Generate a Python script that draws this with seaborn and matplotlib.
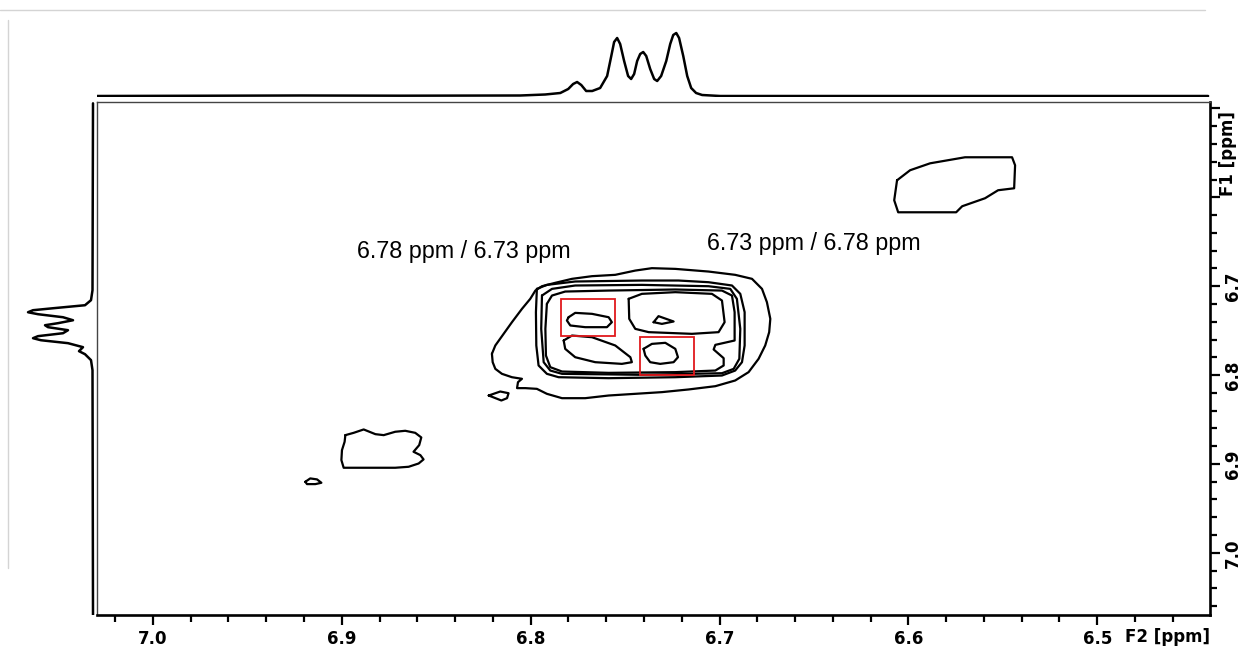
import matplotlib
matplotlib.use("Agg")
import matplotlib.pyplot as plt
import seaborn as sns
from matplotlib.lines import Line2D
from matplotlib.patches import Rectangle
from matplotlib.ticker import MultipleLocator, FuncFormatter

# axis ranges (ppm)
f2_range = (7.0296, 6.4403)
f1_range = (7.070, 6.4927)

# 1D projection along F2 (top): ppm, intensity
top_ppm = [7.0295, 6.9220, 6.8690, 6.8055, 6.7923, 6.7843, 6.7801, 6.7775, 6.7754,
           6.7732, 6.7706, 6.7674, 6.7632, 6.7595, 6.7573, 6.7558, 6.7542, 6.7526,
           6.7505, 6.7484, 6.7468, 6.7452, 6.7436, 6.7420, 6.7404, 6.7388, 6.7367,
           6.7346, 6.7330, 6.7309, 6.7282, 6.7261, 6.7245, 6.7229, 6.7214, 6.7192,
           6.7171, 6.7150, 6.7124, 6.7092, 6.6996, 6.4413]
top_int = [0, 0.5, 0.3, 0.5, 1.5, 3, 7, 12, 14,
           11, 5, 5, 8, 20, 40, 54, 58, 52,
           35, 20, 17, 22, 35, 42, 44, 40, 27,
           17, 15, 20, 35, 52, 61, 63, 58, 40,
           20, 8, 3, 1, 0, 0]

# 1D projection along F1 (left): ppm, intensity
left_ppm = [6.4942, 6.7045, 6.7157, 6.7214, 6.7248, 6.7270, 6.7293, 6.7315, 6.7349,
            6.7383, 6.7416, 6.7439, 6.7461, 6.7495, 6.7529, 6.7562, 6.7585, 6.7608,
            6.7641, 6.7686, 6.7731, 6.7765, 6.7832, 6.7945, 7.0701]
left_int = [0, 0.5, 2, 8, 40, 60, 65, 55, 30,
            20, 35, 48, 45, 25, 30, 55, 60, 52,
            25, 10, 14, 8, 2, 0.5, 0]

# contour outlines (F2 ppm, F1 ppm)
cluster_level1 = [(6.8205, 6.7761), (6.8187, 6.7667), (6.8143, 6.7536), (6.8099, 6.7405),
                  (6.8046, 6.7255), (6.8002, 6.7142), (6.7975, 6.7049), (6.7940, 6.7000),
                  (6.7870, 6.6962), (6.7781, 6.6917), (6.7675, 6.6887), (6.7552, 6.6872),
                  (6.7446, 6.6824), (6.7358, 6.6797), (6.7234, 6.6805), (6.7058, 6.6835),
                  (6.6917, 6.6872), (6.6828, 6.6917), (6.6775, 6.7030), (6.6749, 6.7180),
                  (6.6731, 6.7367), (6.6737, 6.7517), (6.6758, 6.7667), (6.6793, 6.7817),
                  (6.6846, 6.7967), (6.6917, 6.8061), (6.7022, 6.8125), (6.7164, 6.8162),
                  (6.7305, 6.8192), (6.7446, 6.8211), (6.7587, 6.8230), (6.7711, 6.8260),
                  (6.7834, 6.8260), (6.7914, 6.8211), (6.7967, 6.8155), (6.8028, 6.8147),
                  (6.8072, 6.8147), (6.8067, 6.8080), (6.8046, 6.8042), (6.8099, 6.8024),
                  (6.8152, 6.7986), (6.8187, 6.7930), (6.8201, 6.7855)]
cluster_level2 = [(6.7967, 6.7030), (6.7914, 6.6985), (6.7764, 6.6947), (6.7411, 6.6936),
                  (6.7217, 6.6936), (6.7058, 6.6955), (6.6934, 6.6992), (6.6890, 6.7086),
                  (6.6867, 6.7292), (6.6867, 6.7667), (6.6881, 6.7855), (6.6917, 6.7949),
                  (6.6987, 6.8005), (6.7234, 6.8024), (6.7587, 6.8035), (6.7852, 6.8024),
                  (6.7914, 6.7986), (6.7958, 6.7892), (6.7970, 6.7667), (6.7972, 6.7292)]
cluster_level3 = [(6.7940, 6.7105), (6.7887, 6.7030), (6.7764, 6.6992), (6.7411, 6.6985),
                  (6.7058, 6.7000), (6.6943, 6.7030), (6.6908, 6.7142), (6.6890, 6.7480),
                  (6.6895, 6.7817), (6.6925, 6.7930), (6.6987, 6.7979), (6.7411, 6.7997),
                  (6.7834, 6.7986), (6.7896, 6.7949), (6.7931, 6.7855), (6.7944, 6.7480)]
cluster_level4 = [(6.7914, 6.7199), (6.7887, 6.7105), (6.7817, 6.7060), (6.7587, 6.7049),
                  (6.7234, 6.7037), (6.6987, 6.7049), (6.6934, 6.7105), (6.6920, 6.7292),
                  (6.6920, 6.7611), (6.7022, 6.7660), (6.7031, 6.7712), (6.6978, 6.7810),
                  (6.6978, 6.7892), (6.7022, 6.7949), (6.7234, 6.7967), (6.7587, 6.7975),
                  (6.7834, 6.7960), (6.7896, 6.7911), (6.7919, 6.7780), (6.7922, 6.7480)]
cross_peak_a = [(6.7799, 6.7349), (6.7764, 6.7300), (6.7675, 6.7311), (6.7587, 6.7349),
                (6.7570, 6.7405), (6.7596, 6.7461), (6.7711, 6.7461), (6.7790, 6.7442),
                (6.7808, 6.7386)]
diag_lobe_lower = [(6.7825, 6.7611), (6.7781, 6.7555), (6.7675, 6.7574), (6.7552, 6.7667),
                   (6.7472, 6.7799), (6.7464, 6.7855), (6.7517, 6.7874), (6.7658, 6.7855),
                   (6.7764, 6.7799), (6.7817, 6.7705)]
diag_lobe_upper = [(6.7481, 6.7142), (6.7411, 6.7086), (6.7234, 6.7067), (6.7040, 6.7086),
                   (6.6987, 6.7161), (6.6973, 6.7405), (6.7005, 6.7517), (6.7146, 6.7536),
                   (6.7375, 6.7517), (6.7446, 6.7480), (6.7478, 6.7367)]
diag_peak_small = [(6.7349, 6.7405), (6.7323, 6.7337), (6.7243, 6.7397), (6.7305, 6.7424)]
cross_peak_b = [(6.7402, 6.7705), (6.7358, 6.7649), (6.7287, 6.7637), (6.7234, 6.7705),
                (6.7220, 6.7799), (6.7243, 6.7855), (6.7314, 6.7874), (6.7367, 6.7855),
                (6.7393, 6.7780)]
noise_a = [(6.8222, 6.8230), (6.8161, 6.8185), (6.8117, 6.8204), (6.8125, 6.8260),
           (6.8155, 6.8286)]
diag_peak_689 = [(6.8981, 6.8676), (6.8937, 6.8650), (6.8884, 6.8612), (6.8822, 6.8665),
                 (6.8778, 6.8676), (6.8717, 6.8638), (6.8664, 6.8627), (6.8611, 6.8650),
                 (6.8579, 6.8702), (6.8590, 6.8788), (6.8620, 6.8863), (6.8584, 6.8901),
                 (6.8567, 6.8949), (6.8593, 6.8995), (6.8646, 6.9032), (6.8717, 6.9043),
                 (6.8893, 6.9043), (6.8990, 6.9043), (6.9002, 6.8957), (6.8999, 6.8845),
                 (6.8985, 6.8751)]
noise_b = [(6.9193, 6.9201), (6.9167, 6.9163), (6.9131, 6.9174), (6.9108, 6.9212),
           (6.9140, 6.9227), (6.9184, 6.9227)]
diag_peak_658 = [(6.6060, 6.5808), (6.5991, 6.5695), (6.5885, 6.5617), (6.5700, 6.5549),
                 (6.5451, 6.5549), (6.5435, 6.5639), (6.5440, 6.5898), (6.5525, 6.5920),
                 (6.5594, 6.6010), (6.5715, 6.6100), (6.5747, 6.6168), (6.6054, 6.6168),
                 (6.6075, 6.6033)]

# highlighted cross peaks: (F2 min, F2 max, F1 min, F1 max)
box_a = (6.7552, 6.7838, 6.7142, 6.7562)
box_b = (6.7134, 6.7420, 6.7574, 6.7994)

labels = ["6.78 ppm / 6.73 ppm", "6.73 ppm / 6.78 ppm"]
label_pos = [(6.8918, 6.6606), (6.7065, 6.6516)]


def draw_contour(ax, pts, lw=1.6):
    xs = [p[0] for p in pts] + [pts[0][0]]
    ys = [p[1] for p in pts] + [pts[0][1]]
    sns.lineplot(x=xs, y=ys, sort=False, estimator=None, color="black",
                 linewidth=lw, ax=ax)


def main():
    sns.set_style("white")
    plt.rcParams["font.family"] = ["DejaVu Sans"]

    W, H = 1241, 658
    fig = plt.figure(figsize=(W / 100, H / 100), dpi=100)

    ax = fig.add_axes([97 / W, 43 / H, 1113 / W, 513 / H])
    ax_top = fig.add_axes([97 / W, (H - 97) / H, 1113 / W, 66 / H])
    ax_left = fig.add_axes([25 / W, 43 / H, 70 / W, 513 / H])

    # contours
    for c in [cluster_level1, cluster_level2, cluster_level3, cluster_level4,
              cross_peak_a, diag_lobe_lower, diag_lobe_upper, diag_peak_small,
              cross_peak_b, noise_a, diag_peak_689, noise_b, diag_peak_658]:
        draw_contour(ax, c)

    for b in [box_a, box_b]:
        ax.add_patch(Rectangle((b[0], b[2]), b[1] - b[0], b[3] - b[2],
                               fill=False, edgecolor="#e0191c", linewidth=1.3, zorder=5))

    for txt, (x, y) in zip(labels, label_pos):
        ax.text(x, y, txt, ha="left", va="center", fontsize=16.8,
                family=["Liberation Sans", "DejaVu Sans"], color="black")

    ax.set_xlim(*f2_range)
    ax.set_ylim(*f1_range)
    ax.set_xlabel("")
    ax.set_ylabel("")

    ax.xaxis.set_major_locator(MultipleLocator(0.1))
    ax.xaxis.set_minor_locator(MultipleLocator(0.02))
    ax.yaxis.set_major_locator(MultipleLocator(0.1))
    ax.yaxis.set_minor_locator(MultipleLocator(0.02))
    ax.xaxis.set_major_formatter(FuncFormatter(lambda v, p: f"{v:.1f}"))
    ax.yaxis.set_major_formatter(
        FuncFormatter(lambda v, p: f"{v:.1f}" if v > 6.65 else ""))

    ax.tick_params(axis="x", which="major", direction="out", length=7, width=1.6,
                   bottom=True, top=False, labelsize=12, pad=4, colors="black")
    ax.tick_params(axis="x", which="minor", direction="out", length=5, width=1.6,
                   bottom=True, top=False, colors="black")
    ax.tick_params(axis="y", which="major", direction="out", length=7, width=1.6,
                   left=False, right=True, labelleft=False, labelright=True,
                   labelsize=12, pad=3, labelrotation=90, colors="black")
    ax.tick_params(axis="y", which="minor", direction="out", length=5, width=1.6,
                   left=False, right=True, colors="black")
    for lab in ax.get_xticklabels() + ax.get_yticklabels():
        lab.set_fontweight("bold")
    for lab in ax.get_yticklabels():
        lab.set_va("center")

    for side in ["bottom", "right"]:
        ax.spines[side].set_linewidth(1.9)
        ax.spines[side].set_color("black")
    for side in ["top", "left"]:
        ax.spines[side].set_linewidth(1.0)
        ax.spines[side].set_color("#444444")

    ax.text(0.962, -0.043, "F2 [ppm]", transform=ax.transAxes, ha="center",
            va="center", fontsize=12, fontweight="bold", color="black")
    ax.text(1.016, 0.9, "F1 [ppm]", transform=ax.transAxes, ha="center",
            va="center", rotation=90, fontsize=12, fontweight="bold", color="black")

    # projections
    sns.lineplot(x=top_ppm, y=top_int, sort=False, estimator=None, color="black",
                 linewidth=1.8, ax=ax_top)
    ax_top.set_xlim(*f2_range)
    ax_top.set_ylim(-1, 65)
    ax_top.axis("off")

    sns.lineplot(x=left_int, y=left_ppm, sort=False, estimator=None, color="black",
                 linewidth=1.8, ax=ax_left)
    ax_left.set_ylim(*f1_range)
    ax_left.set_xlim(68, -2)
    ax_left.axis("off")

    # light frame remnants of the screenshot
    fig.add_artist(Line2D([0, 1205 / W], [1 - 10 / H, 1 - 10 / H],
                          color="#d4d4d4", linewidth=1))
    fig.add_artist(Line2D([8 / W, 8 / W], [1 - 20 / H, 1 - 568 / H],
                          color="#d4d4d4", linewidth=1))

    fig.savefig("out.png", dpi=100)
    plt.close(fig)


if __name__ == "__main__":
    main()
